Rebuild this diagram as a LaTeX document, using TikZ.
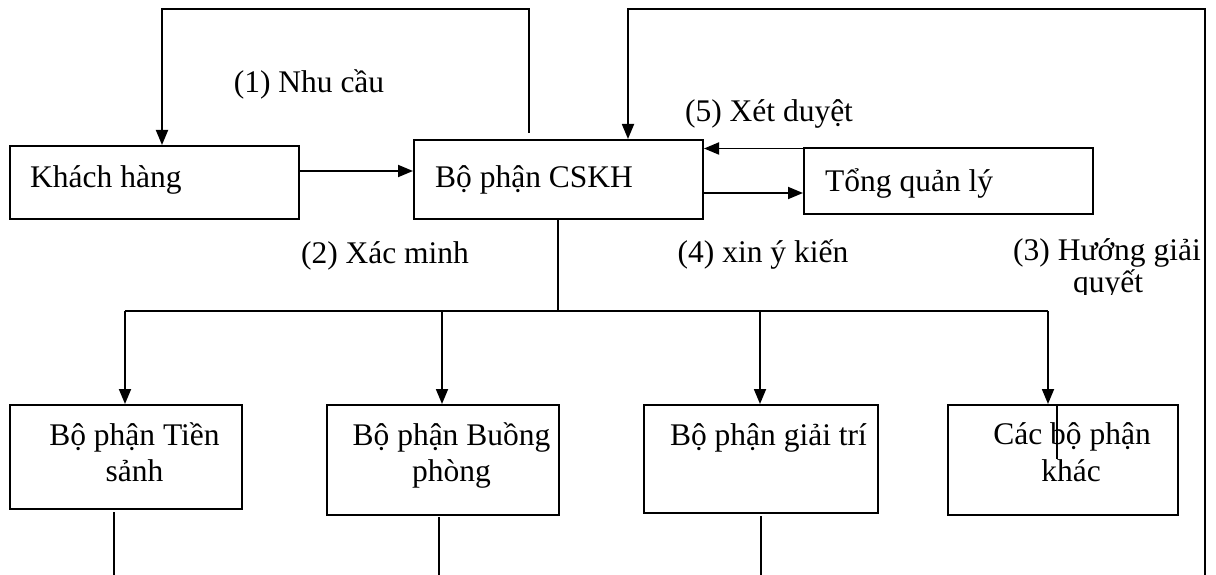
\documentclass[tikz,border=0pt]{standalone}
\usepackage{fontspec}
\setmainfont{Liberation Serif}
\usetikzlibrary{arrows.meta}
\begin{document}
\begin{tikzpicture}[x=1pt,y=-1pt,
  box/.style={draw, line width=2pt, inner sep=0pt, anchor=north west},
  ln/.style={line width=1.8pt},
  arr/.style={ln, -{Triangle[length=15pt,width=12pt]}},
  txt/.style={inner sep=0pt, font=\fontsize{31.5}{36}\selectfont}]
\useasboundingbox (0,0) rectangle (1216,575);

% boxes
\node[box, minimum width=289pt, minimum height=73pt]  (kh)   at (9,145)   {};
\node[box, minimum width=289pt, minimum height=79pt]  (cskh) at (413,139) {};
\node[box, minimum width=289pt, minimum height=66pt]  (tong) at (803,147) {};
\node[box, minimum width=232pt, minimum height=104pt] (b1)   at (9,404)   {};
\node[box, minimum width=232pt, minimum height=110pt] (b2)   at (326,404) {};
\node[box, minimum width=234pt, minimum height=108pt] (b3)   at (643,404) {};
\node[box, minimum width=230pt, minimum height=110pt] (b4)   at (947,404) {};

% box texts
\node[txt, anchor=base west] (khT)   at (30,187)  {Khách hàng};
\node[txt, anchor=base west] (cskhT) at (435,188) {Bộ phận CSKH};
\node[txt, anchor=base west] (tongT) at (825,192) {Tổng quản lý};
\node[txt, anchor=base] (b1a) at (134.5,445) {Bộ phận Tiền};
\node[txt, anchor=base] (b1b) at (134.5,481) {sảnh};
\node[txt, anchor=base] (b2a) at (451.5,445) {Bộ phận Buồng};
\node[txt, anchor=base] (b2b) at (451.5,481) {phòng};
\node[txt, anchor=base] (b3a) at (768.5,445) {Bộ phận giải trí};
\node[txt, anchor=base] (b4a) at (1072,444)  {Các bộ phận};
\node[txt, anchor=base] (b4b) at (1071,481)  {khác};

% labels
\node[txt, anchor=base] (l1) at (309,93)   {(1) Nhu cầu};
\node[txt, anchor=base] (l5) at (769,122)  {(5) Xét duyệt};
\node[txt, anchor=base] (l2) at (385,263)  {(2) Xác minh};
\node[txt, anchor=base] (l4) at (763,262)  {(4) xin ý kiến};
\node[txt, anchor=base] (l3a) at (1107,260) {(3) Hướng giải};
\begin{scope}
  \clip (1000,264) rectangle (1204,294);
  \node[txt, anchor=base] (l3b) at (1108,292) {quyết};
\end{scope}

% coordinates
\coordinate (s1)  at (529,133);
\coordinate (tl)  at (162,9);
\coordinate (s3)  at (1205,575);
\coordinate (tr)  at (628,9);
\coordinate (j)   at (558,311);
\coordinate (h1)  at (125,311);
\coordinate (h2)  at (442,311);
\coordinate (h3)  at (760,311);
\coordinate (h4)  at (1048,311);
\coordinate (d1a) at (114,512);
\coordinate (d1b) at (114,575);
\coordinate (d2a) at (439,517);
\coordinate (d2b) at (439,575);
\coordinate (d3a) at (761,516);
\coordinate (d3b) at (761,575);
\coordinate (m4)  at (1057,459);

% loops
\draw[arr] (s1) |- (tl) -- (kh.north -| tl);
\draw[arr] (s3) |- (tr) -- (cskh.north -| tr);

% horizontal arrows
\draw[arr] (kh.east |- 0,171) -- (cskh.west |- 0,171);
\draw[arr] (tong.west |- 0,148.5) -- (cskh.east |- 0,148.5);
\draw[arr] (cskh.east |- 0,193) -- (tong.west |- 0,193);

% tree
\draw[ln] (cskh.south -| j) -- (j);
\draw[ln] (h1) -- (h4);
\draw[arr] (h1) -- (b1.north -| h1);
\draw[arr] (h2) -- (b2.north -| h2);
\draw[arr] (h3) -- (b3.north -| h3);
\draw[arr] (h4) -- (b4.north -| h4);

% lines below boxes
\draw[ln] (d1a) -- (d1b);
\draw[ln] (d2a) -- (d2b);
\draw[ln] (d3a) -- (d3b);
\draw[ln] (b4.north -| m4) -- (m4);
\end{tikzpicture}
\end{document}
